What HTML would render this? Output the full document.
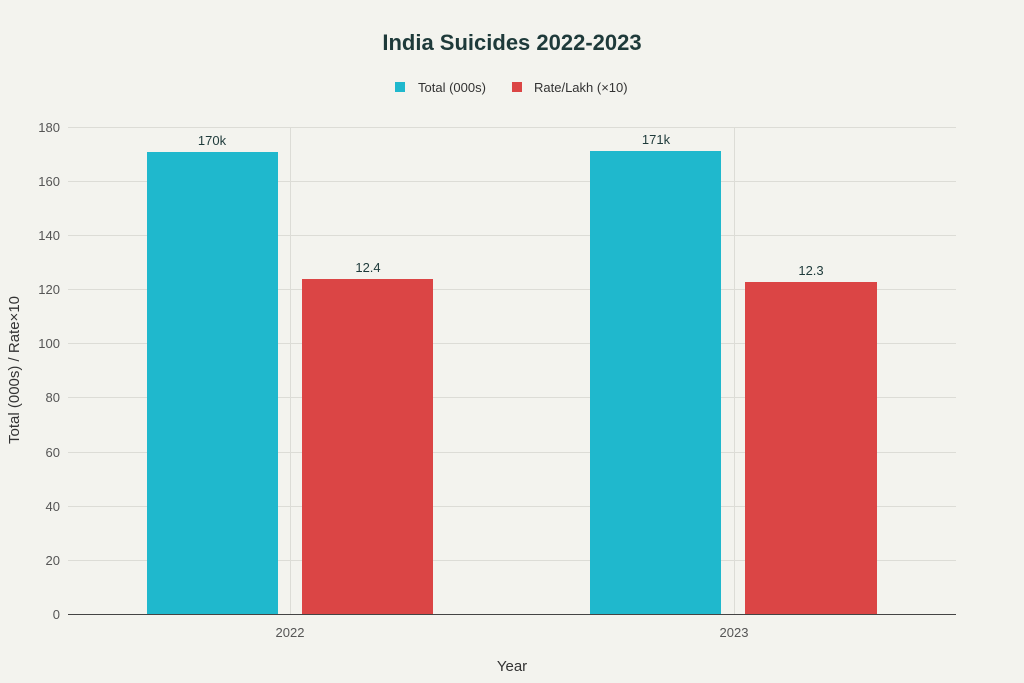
<!DOCTYPE html>
<html><head><meta charset="utf-8"><style>
body{margin:0;background:#F3F3EE;}
svg{display:block;font-family:"Liberation Sans",sans-serif;}
</style></head><body>
<svg width="1024" height="683" viewBox="0 0 1024 683">
<rect width="1024" height="683" fill="#F3F3EE"/>
<text x="512" y="50" text-anchor="middle" font-size="22" font-weight="bold" fill="#1E3A3A">India Suicides 2022-2023</text>
<rect x="395" y="82" width="10" height="10" fill="#1FB8CD"/>
<text x="418" y="92" font-size="13" fill="#333">Total (000s)</text>
<rect x="512" y="82" width="10" height="10" fill="#DB4545"/>
<text x="534" y="92" font-size="13" fill="#333">Rate/Lakh (×10)</text>
<g stroke="#DCDCD6" stroke-width="1">
<line x1="68" x2="956" y1="127.5" y2="127.5"/>
<line x1="68" x2="956" y1="181.5" y2="181.5"/>
<line x1="68" x2="956" y1="235.5" y2="235.5"/>
<line x1="68" x2="956" y1="289.5" y2="289.5"/>
<line x1="68" x2="956" y1="343.5" y2="343.5"/>
<line x1="68" x2="956" y1="397.5" y2="397.5"/>
<line x1="68" x2="956" y1="452.5" y2="452.5"/>
<line x1="68" x2="956" y1="506.5" y2="506.5"/>
<line x1="68" x2="956" y1="560.5" y2="560.5"/>
<line x1="290.5" x2="290.5" y1="127" y2="614"/>
<line x1="734.5" x2="734.5" y1="127" y2="614"/>
</g>
<rect x="147" y="152" width="131" height="462" fill="#1FB8CD"/>
<rect x="302" y="279" width="131" height="335" fill="#DB4545"/>
<rect x="590" y="151" width="131" height="463" fill="#1FB8CD"/>
<rect x="745" y="282" width="132" height="332" fill="#DB4545"/>
<line x1="68" x2="956" y1="614.5" y2="614.5" stroke="#444" stroke-width="1"/>
<g font-size="13" fill="#1E3A3A" text-anchor="middle">
<text x="212" y="145">170k</text>
<text x="368" y="272">12.4</text>
<text x="656" y="144">171k</text>
<text x="811" y="275">12.3</text>
</g>
<g font-size="13" fill="#555" text-anchor="end">
<text x="60" y="132">180</text><text x="60" y="186">160</text><text x="60" y="240">140</text>
<text x="60" y="294">120</text><text x="60" y="348">100</text><text x="60" y="402">80</text>
<text x="60" y="457">60</text><text x="60" y="511">40</text><text x="60" y="565">20</text>
<text x="60" y="619">0</text>
</g>
<g font-size="13" fill="#555" text-anchor="middle">
<text x="290" y="637">2022</text><text x="734" y="637">2023</text>
</g>
<text x="512" y="671" text-anchor="middle" font-size="15" fill="#333">Year</text>
<text transform="translate(19,370) rotate(-90)" text-anchor="middle" font-size="15" fill="#333">Total (000s) / Rate×10</text>
</svg>
</body></html>
